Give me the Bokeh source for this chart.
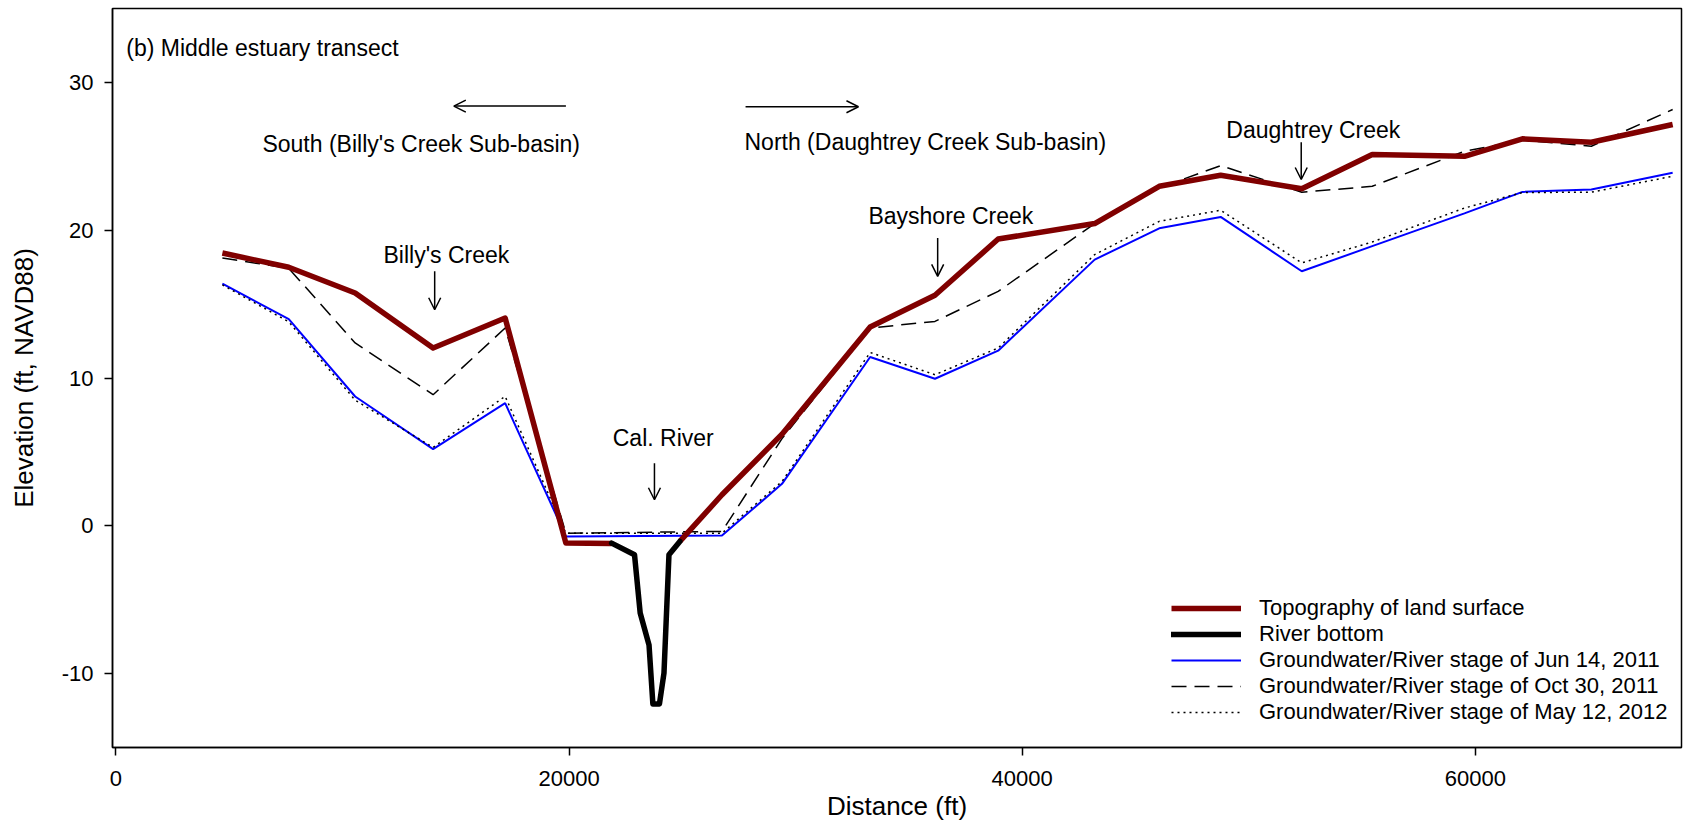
from bokeh.plotting import figure
from bokeh.models import Range1d, Label, Arrow, OpenHead, Legend, LegendItem, FixedTicker
from bokeh.embed import file_html
from bokeh.resources import INLINE

# ---------------- data ----------------
dist = [4700, 7630, 10560, 14000, 17180, 19860, 21880, 24890, 26750, 29400,
        33290, 36150, 38940, 43200, 46050, 48760, 52340, 55450, 59520, 62080,
        65120, 68710]
topo = [18.46, 17.49, 15.75, 12.03, 14.06, -1.17, -1.20, -1.06, 2.1, 6.2,
        13.45, 15.6, 19.4, 20.45, 22.97, 23.72, 22.80, 25.12, 25.0, 26.18,
        25.95, 27.15]

gw_dist = [4700, 7630, 10560, 14000, 17180, 19860, 26750, 29400, 33290, 36150,
           38940, 43200, 46050, 48760, 52340, 55450, 59520, 62080, 65120, 68710]
gw_jun2011 = [16.38, 13.99, 8.75, 5.19, 8.30, -0.72, -0.66, 2.84, 11.42, 9.95,
              11.85, 18.01, 20.13, 20.90, 17.22, 18.92, 21.14, 22.59, 22.75, 23.88]
gw_oct2011 = [18.12, 17.42, 12.37, 8.87, 13.38, -0.50, -0.38, 5.9, 13.38, 13.83,
              15.86, 20.45, 22.86, 24.37, 22.57, 22.97, 25.34, 26.09, 25.68, 28.17]
gw_may2012 = [16.3, 13.8, 8.5, 5.3, 8.76, -0.50, -0.50, 3.0, 11.73, 10.22,
              12.03, 18.35, 20.6, 21.35, 17.79, 19.2, 21.5, 22.55, 22.57, 23.65]

river_dist = [21880, 22890, 23140, 23530, 23700, 23990, 24190, 24410, 24890]
river_bottom = [-1.17, -1.96, -5.9, -8.06, -12.05, -12.05, -9.97, -1.96, -1.06]

xtick_vals = [0, 20000, 40000, 60000]
xtick_labels = ["0", "20000", "40000", "60000"]
ytick_vals = [-10, 0, 10, 20, 30]
ytick_labels = ["-10", "0", "10", "20", "30"]

series_names = ["Topography of land surface", "River bottom",
                "Groundwater/River stage of Jun 14, 2011",
                "Groundwater/River stage of Oct 30, 2011",
                "Groundwater/River stage of May 12, 2012"]

# -------------- figure ----------------
FONT = "Liberation Sans"
p = figure(width=1684, height=823, output_backend="svg", toolbar_location=None,
           x_range=Range1d(-150, 69100), y_range=Range1d(-15, 35),
           min_border_left=112, min_border_right=3, min_border_top=8,
           min_border_bottom=0)
p.xgrid.visible = False
p.ygrid.visible = False
p.outline_line_color = "black"
p.outline_line_width = 1.5
p.background_fill_color = "white"

# break the land-surface line across the river channel (index 7 starts again)
topo_x = dist[:7] + [float("nan")] + dist[7:]
topo_y = topo[:7] + [float("nan")] + topo[7:]

r_jun = p.line(gw_dist, gw_jun2011, line_color="#0000ff", line_width=2)
r_may = p.line(gw_dist, gw_may2012, line_color="black", line_width=1.5, line_dash="2 4")
r_oct = p.line(gw_dist, gw_oct2011, line_color="black", line_width=1.5, line_dash="15 8")
r_topo = p.line(topo_x, topo_y, line_color="#800000", line_width=5.5, line_join="round")
r_river = p.line(river_dist, river_bottom, line_color="black", line_width=5.5,
                 line_join="round", line_cap="round")

for ax in (p.xaxis[0], p.yaxis[0]):
    ax.axis_line_width = 1.5
    ax.major_tick_line_width = 1.5
    ax.major_tick_in = 0
    ax.major_tick_out = 8
    ax.minor_tick_line_color = None
    ax.major_label_text_font = FONT
    ax.major_label_text_font_size = "22px"
    ax.major_label_text_color = "black"
    ax.axis_label_text_font = FONT
    ax.axis_label_text_font_size = "26px"
    ax.axis_label_text_font_style = "normal"
    ax.axis_label_text_color = "black"
    ax.major_label_standoff = 11

p.xaxis.ticker = FixedTicker(ticks=xtick_vals)
p.xaxis.major_label_overrides = dict(zip(xtick_vals, xtick_labels))
p.xaxis.major_label_standoff = 15
p.yaxis.ticker = FixedTicker(ticks=ytick_vals)
p.yaxis.major_label_overrides = dict(zip(ytick_vals, ytick_labels))
p.xaxis.axis_label = "Distance (ft)"
p.yaxis.axis_label = "Elevation (ft, NAVD88)"
p.xaxis.axis_label_standoff = 2
p.yaxis.axis_label_standoff = 20

# -------------- annotations ----------------
def lab(x, y, t, align="center"):
    p.add_layout(Label(x=x, y=y, text=t, text_font=FONT, text_font_size="23px",
                       text_align=align, text_baseline="middle", text_color="black"))

lab(459, 32.3, "(b) Middle estuary transect", "left")
lab(13475, 25.8, "South (Billy's Creek Sub-basin)")
lab(35727, 25.96, "North (Daughtrey Creek Sub-basin)")
lab(14586, 18.29, "Billy's Creek")
lab(36853, 20.99, "Bayshore Creek")
lab(52849, 26.76, "Daughtrey Creek")
lab(24157, 5.94, "Cal. River")

def arr(x0, y0, x1, y1):
    p.add_layout(Arrow(end=OpenHead(size=12, line_width=1.5, line_color="black"),
                       x_start=x0, y_start=y0, x_end=x1, y_end=y1,
                       line_width=1.5, line_color="black"))

arr(19862, 28.4, 14915, 28.4)
arr(27791, 28.35, 32774, 28.35)
arr(14070, 17.22, 14070, 14.62)
arr(36270, 19.48, 36270, 16.88)
arr(52316, 25.95, 52316, 23.43)
arr(23770, 4.24, 23770, 1.76)

legend = Legend(items=[
    LegendItem(label=series_names[0], renderers=[r_topo]),
    LegendItem(label=series_names[1], renderers=[r_river]),
    LegendItem(label=series_names[2], renderers=[r_jun]),
    LegendItem(label=series_names[3], renderers=[r_oct]),
    LegendItem(label=series_names[4], renderers=[r_may]),
], location=(1059, 22), border_line_color=None, background_fill_alpha=0,
    padding=0, margin=0, spacing=0, glyph_width=70, glyph_height=20,
    label_height=20, label_standoff=18, label_text_font=FONT,
    label_text_font_size="22px", label_text_color="black")
p.add_layout(legend)

open("out.html", "w").write(file_html(p, INLINE))
